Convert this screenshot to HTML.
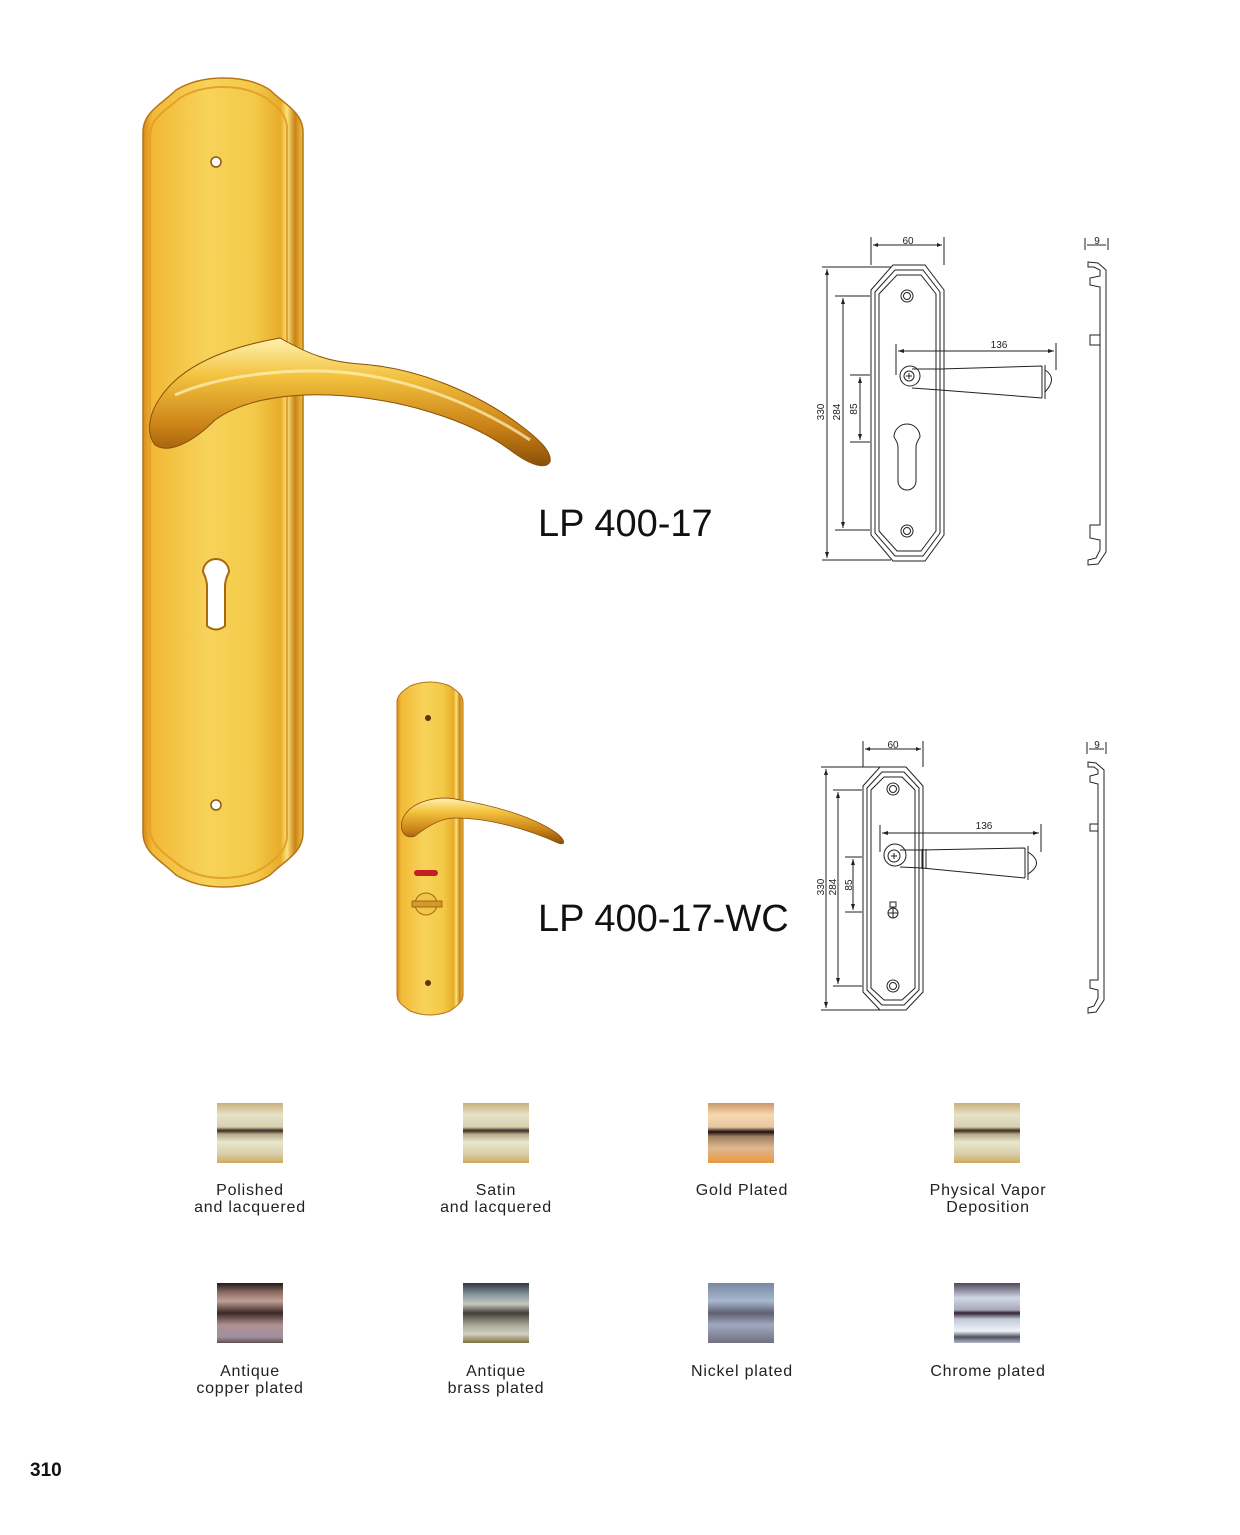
<!DOCTYPE html>
<html><head><meta charset="utf-8"><style>
html,body{margin:0;padding:0;background:#fff;}
body{width:1240px;height:1535px;position:relative;overflow:hidden;font-family:"Liberation Sans",sans-serif;}
svg{position:absolute;left:0;top:0;}
</style></head><body>
<svg width="1240" height="1535" viewBox="0 0 1240 1535" xmlns="http://www.w3.org/2000/svg">
<defs>
<linearGradient id="gp" x1="0" x2="1" y1="0" y2="0">
<stop offset="0" stop-color="#d98a1c"/><stop offset="0.06" stop-color="#f2b936"/><stop offset="0.4" stop-color="#f7d35a"/><stop offset="0.7" stop-color="#f3c948"/><stop offset="0.86" stop-color="#e8ac2a"/><stop offset="0.9" stop-color="#fbe27a"/><stop offset="0.95" stop-color="#c98318"/><stop offset="1" stop-color="#f0c040"/>
</linearGradient>
<linearGradient id="gh" x1="0" x2="0" y1="0" y2="1">
<stop offset="0" stop-color="#fff2b0"/><stop offset="0.3" stop-color="#f3c23e"/><stop offset="0.7" stop-color="#c98116"/><stop offset="1" stop-color="#8a4e08"/>
</linearGradient>
<linearGradient id="s1" x1="0" x2="0" y1="0" y2="1"><stop offset="0" stop-color="#c8b07a"/><stop offset="0.2" stop-color="#e6e3c8"/><stop offset="0.4" stop-color="#d6d0b0"/><stop offset="0.46" stop-color="#3a2a20"/><stop offset="0.52" stop-color="#b8a888"/><stop offset="0.65" stop-color="#e8e6cc"/><stop offset="0.85" stop-color="#d8cfa8"/><stop offset="1" stop-color="#d0a860"/></linearGradient>
<linearGradient id="s3" x1="0" x2="0" y1="0" y2="1"><stop offset="0" stop-color="#c89868"/><stop offset="0.2" stop-color="#f8d8b0"/><stop offset="0.4" stop-color="#e8c8a0"/><stop offset="0.48" stop-color="#201010"/><stop offset="0.56" stop-color="#a08060"/><stop offset="0.75" stop-color="#e0b890"/><stop offset="1" stop-color="#e89840"/></linearGradient>
<linearGradient id="s5" x1="0" x2="0" y1="0" y2="1"><stop offset="0" stop-color="#201818"/><stop offset="0.15" stop-color="#8a6a60"/><stop offset="0.3" stop-color="#c0a098"/><stop offset="0.5" stop-color="#3a2828"/><stop offset="0.7" stop-color="#b09090"/><stop offset="0.9" stop-color="#a090a0"/><stop offset="1" stop-color="#605050"/></linearGradient>
<linearGradient id="s6" x1="0" x2="0" y1="0" y2="1"><stop offset="0" stop-color="#303840"/><stop offset="0.2" stop-color="#8898a0"/><stop offset="0.35" stop-color="#c8c8c0"/><stop offset="0.5" stop-color="#404038"/><stop offset="0.7" stop-color="#a8a898"/><stop offset="0.85" stop-color="#d0d0c0"/><stop offset="1" stop-color="#807040"/></linearGradient>
<linearGradient id="s7" x1="0" x2="0" y1="0" y2="1"><stop offset="0" stop-color="#7888a0"/><stop offset="0.3" stop-color="#a8b8d0"/><stop offset="0.5" stop-color="#606070"/><stop offset="0.7" stop-color="#a0a8c0"/><stop offset="1" stop-color="#707080"/></linearGradient>
<linearGradient id="s8" x1="0" x2="0" y1="0" y2="1"><stop offset="0" stop-color="#504858"/><stop offset="0.25" stop-color="#d0d8e8"/><stop offset="0.45" stop-color="#a8a8b8"/><stop offset="0.5" stop-color="#302030"/><stop offset="0.6" stop-color="#c0c8d8"/><stop offset="0.8" stop-color="#f0f4f8"/><stop offset="0.9" stop-color="#505060"/><stop offset="1" stop-color="#b0b8c8"/></linearGradient>
</defs>

<!-- Big plate -->
<path d="M143,132 C143,112 162,104 176,90 Q196,78 223,78 Q252,78 270,90 C284,104 303,112 303,132 L303,833 C303,853 284,861 270,875 Q252,887 223,887 Q196,887 176,875 C162,861 143,853 143,833 Z" fill="url(#gp)" stroke="#b8741a" stroke-width="1.5"/>
<path d="M150,136 C150,118 166,110 180,98 Q198,87 223,87 Q248,87 266,98 C276,106 285,112 287,126 L287,838 C285,852 276,858 266,866 Q248,878 223,878 Q198,878 180,866 C166,854 150,846 150,828 Z" fill="none" stroke="#e3a22a" stroke-width="2"/>
<circle cx="216" cy="162" r="5" fill="#fff" stroke="#8a5a10" stroke-width="1.5"/>
<circle cx="216" cy="805" r="5" fill="#fff" stroke="#8a5a10" stroke-width="1.5"/>
<path d="M203,572 a13,13 0 1,1 26,0 q-4,8 -4,14 v40 q-9,7 -18,0 v-40 q0,-6 -4,-14z" fill="#fff" stroke="#a8680e" stroke-width="2"/>
<!-- big handle -->
<path d="M160,398 C185,360 240,345 280,338 C310,355 330,362 360,364 C420,368 480,395 520,425 C540,440 552,452 550,462 C545,470 530,465 510,450 C470,420 400,398 330,395 C280,393 240,402 215,420 C195,440 170,455 155,445 C145,432 150,412 160,398 Z" fill="url(#gh)" stroke="#8a5008" stroke-width="1"/>
<path d="M175,395 C220,375 290,368 340,372 C400,377 470,400 530,440" fill="none" stroke="#fff4c0" stroke-width="3" opacity="0.7"/>

<!-- Small plate -->
<path d="M397,702 C397,694 405,690 410,686 Q420,682 430,682 Q440,682 450,686 C455,690 463,694 463,702 L463,995 C463,1003 455,1007 450,1011 Q440,1015 430,1015 Q420,1015 410,1011 C405,1007 397,1003 397,995 Z" fill="url(#gp)" stroke="#b8741a" stroke-width="1"/>
<circle cx="428" cy="718" r="3" fill="#5a3508"/>
<circle cx="428" cy="983" r="3" fill="#5a3508"/>
<rect x="414" y="870" width="24" height="6" rx="3" fill="#c02020"/>
<circle cx="426" cy="904" r="11" fill="#f2c448" stroke="#a06a10"/>
<rect x="412" y="901" width="30" height="6" fill="#d49a28" stroke="#8a5a10" stroke-width="0.8"/>
<path d="M403,818 C412,800 440,795 460,800 C490,805 530,815 555,832 C566,840 566,846 558,843 C530,830 490,818 455,818 C440,818 425,828 415,836 C405,840 398,830 403,818Z" fill="url(#gh)" stroke="#8a5008" stroke-width="0.8"/>

<!-- Titles -->
<text x="538" y="536" font-size="38" fill="#111" font-family="Liberation Sans, sans-serif">LP 400-17</text>
<text x="538" y="931" font-size="38" fill="#111" font-family="Liberation Sans, sans-serif">LP 400-17-WC</text>

<!-- Drawing 1 -->
<g fill="none" stroke="#222" stroke-width="1">
<polygon points="893,265 925,265 944,290 944,535 925,561 893,561 871,535 871,290"/>
<polygon points="895,270 923,270 940,292 940,533 923,556 895,556 875,533 875,292"/>
<polygon points="897,275 921,275 936,294 936,531 921,551 897,551 879,531 879,294"/>
<circle cx="907" cy="296" r="6"/><circle cx="907" cy="296" r="3.5"/>
<circle cx="907" cy="531" r="6"/><circle cx="907" cy="531" r="3.5"/>
<circle cx="910" cy="376" r="10"/><circle cx="909" cy="376" r="5"/>
<path d="M906,376h6M909,373v6"/>
<path d="M912,369 L940,369 L1042,366 M912,388 L940,390 L1042,398 M940,368 v23 M944,368 v23 M1042,366 v32 M1045,365 v34 M1045,370 Q1058,378 1045,392"/>
<path d="M894,437 a13,13 0 1,1 26,0 q-4,6 -4,10 v34 a5,5 0 0,1 -18,0 v-34 q0,-4 -4,-10z"/>
<path d="M871,237 V265 M944,237 V265 M873,245 H942"/>
<path d="M822,267 H891 M822,560 H891 M827,269 V558"/>
<path d="M835,296 H870 M835,530 H870 M843,298 V528"/>
<path d="M850,375 H870 M850,442 H870 M860,377 V440"/>
<path d="M896,344 V375 M1056,343 V370 M898,351 H1054"/>
<path d="M1085,238 V250 M1108,238 V250 M1087,245 H1106"/>
<path d="M1088,262 L1098,263 L1106,270 V552 L1098,564 L1088,565 V560 L1096,558 L1100,550 V540 L1090,538 V525 L1100,525 V287 L1090,285 V278 L1100,276 V270 L1094,267 L1088,267 Z M1090,335 H1100 V345 H1090 Z"/>
</g>
<g fill="#222">
<polygon points="873,245 878,243 878,247"/><polygon points="942,245 937,243 937,247"/>
<polygon points="827,269 825,275 829,275"/><polygon points="827,558 825,552 829,552"/>
<polygon points="843,298 841,304 845,304"/><polygon points="843,528 841,522 845,522"/>
<polygon points="860,377 858,383 862,383"/><polygon points="860,440 858,434 862,434"/>
<polygon points="898,351 904,349 904,353"/><polygon points="1054,351 1048,349 1048,353"/>
</g>
<g font-size="10" fill="#222" font-family="Liberation Sans, sans-serif" text-anchor="middle">
<text x="908" y="244">60</text><text x="999" y="348">136</text><text x="1097" y="244">9</text>
<text transform="translate(824,412) rotate(-90)">330</text>
<text transform="translate(840,412) rotate(-90)">284</text>
<text transform="translate(857,409) rotate(-90)">85</text>
</g>

<!-- Drawing 2 -->
<g fill="none" stroke="#222" stroke-width="1">
<polygon points="880,767 906,767 923,786 923,992 906,1010 880,1010 863,992 863,786"/>
<polygon points="882,772 904,772 919,788 919,990 904,1005 882,1005 867,990 867,788"/>
<polygon points="884,777 902,777 915,790 915,988 902,1000 884,1000 871,988 871,790"/>
<circle cx="893" cy="789" r="6"/><circle cx="893" cy="789" r="3.5"/>
<circle cx="893" cy="986" r="6"/><circle cx="893" cy="986" r="3.5"/>
<circle cx="895" cy="855" r="11"/><circle cx="894" cy="856" r="6"/>
<path d="M891,856h6M894,853v6"/>
<path d="M900,850 L922,850 L1025,848 M900,867 L922,868 L1025,878 M922,849 v20 M926,849 v20 M1025,848 v30 M1028,846 v34 M1028,852 Q1045,863 1028,874"/>
<circle cx="893" cy="913" r="5"/><path d="M888,913h10M893,908v10"/><rect x="890" y="902" width="6" height="5"/>
<path d="M863,741 V767 M923,741 V767 M865,749 H921"/>
<path d="M821,767 H880 M821,1010 H880 M826,769 V1008"/>
<path d="M833,790 H862 M833,986 H862 M838,792 V984"/>
<path d="M845,857 H862 M845,912 H862 M853,859 V910"/>
<path d="M880,825 V852 M1041,824 V852 M882,833 H1039"/>
<path d="M1087,742 V754 M1106,742 V754 M1089,749 H1104"/>
<path d="M1088,762 L1096,763 L1104,770 V1000 L1096,1012 L1088,1013 V1008 L1094,1006 L1098,998 V990 L1090,988 V980 L1098,980 V784 L1090,782 V776 L1098,774 V770 L1094,767 L1088,767 Z M1090,824 H1098 V831 H1090 Z"/>
</g>
<g fill="#222">
<polygon points="865,749 870,747 870,751"/><polygon points="921,749 916,747 916,751"/>
<polygon points="826,769 824,775 828,775"/><polygon points="826,1008 824,1002 828,1002"/>
<polygon points="838,792 836,798 840,798"/><polygon points="838,984 836,978 840,978"/>
<polygon points="853,859 851,865 855,865"/><polygon points="853,910 851,904 855,904"/>
<polygon points="882,833 888,831 888,835"/><polygon points="1039,833 1033,831 1033,835"/>
</g>
<g font-size="10" fill="#222" font-family="Liberation Sans, sans-serif" text-anchor="middle">
<text x="893" y="748">60</text><text x="984" y="829">136</text><text x="1097" y="748">9</text>
<text transform="translate(824,887) rotate(-90)">330</text>
<text transform="translate(836,887) rotate(-90)">284</text>
<text transform="translate(852,885) rotate(-90)">85</text>
</g>

<!-- Swatches -->
<rect x="217" y="1103" width="66" height="60" fill="url(#s1)"/>
<rect x="463" y="1103" width="66" height="60" fill="url(#s1)"/>
<rect x="708" y="1103" width="66" height="60" fill="url(#s3)"/>
<rect x="954" y="1103" width="66" height="60" fill="url(#s1)"/>
<rect x="217" y="1283" width="66" height="60" fill="url(#s5)"/>
<rect x="463" y="1283" width="66" height="60" fill="url(#s6)"/>
<rect x="708" y="1283" width="66" height="60" fill="url(#s7)"/>
<rect x="954" y="1283" width="66" height="60" fill="url(#s8)"/>
<g font-size="16" fill="#222" font-family="Liberation Sans, sans-serif" text-anchor="middle" letter-spacing="0.8">
<text x="250" y="1195">Polished</text><text x="250" y="1212">and lacquered</text>
<text x="496" y="1195">Satin</text><text x="496" y="1212">and lacquered</text>
<text x="742" y="1195">Gold Plated</text>
<text x="988" y="1195">Physical Vapor</text><text x="988" y="1212">Deposition</text>
<text x="250" y="1376">Antique</text><text x="250" y="1393">copper plated</text>
<text x="496" y="1376">Antique</text><text x="496" y="1393">brass plated</text>
<text x="742" y="1376">Nickel plated</text>
<text x="988" y="1376">Chrome plated</text>
</g>
<text x="30" y="1476" font-size="19" font-weight="bold" fill="#111" font-family="Liberation Sans, sans-serif">310</text>
</svg>
</body></html>
